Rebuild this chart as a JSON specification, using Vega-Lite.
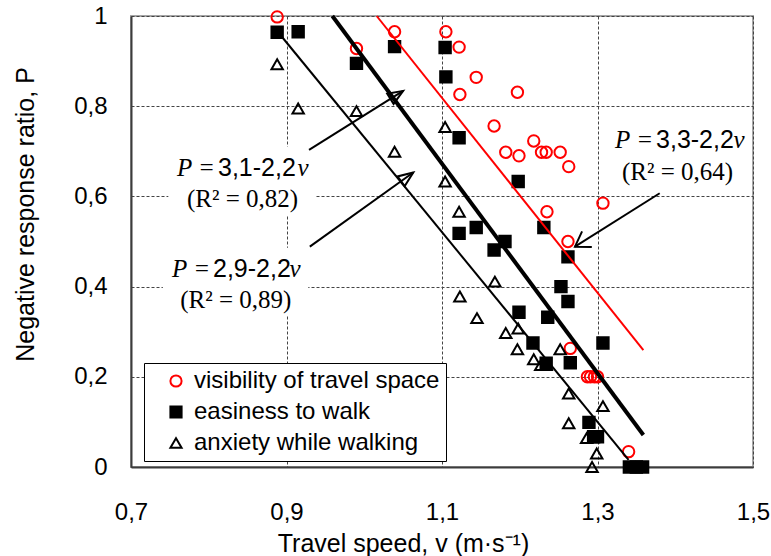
{
  "$schema": "https://vega.github.io/schema/vega-lite/v6.json",
  "width": 622,
  "height": 451,
  "autosize": {"type": "none"},
  "padding": {"left": 131, "top": 16, "right": 18, "bottom": 89},
  "background": "white",
  "config": {
    "view": {"stroke": "#a6a6a6", "strokeWidth": 2},
    "axis": {
      "domainColor": "#3c3c3c",
      "domainWidth": 2,
      "ticks": false,
      "tickSize": 0,
      "gridColor": "#444444",
      "gridDash": [3, 2],
      "gridWidth": 1,
      "labelFont": "Liberation Sans",
      "labelFontSize": 24,
      "labelColor": "black",
      "labelOverlap": false,
      "titleFont": "Liberation Sans",
      "titleFontSize": 25,
      "titleFontWeight": "normal",
      "titleColor": "black"
    }
  },
  "datasets": {
    "responses": [
      {"series": "visibility of travel space", "v": 0.888, "P": 0.998},
      {"series": "visibility of travel space", "v": 0.990, "P": 0.928},
      {"series": "visibility of travel space", "v": 1.039, "P": 0.965},
      {"series": "visibility of travel space", "v": 1.105, "P": 0.965},
      {"series": "visibility of travel space", "v": 1.122, "P": 0.931},
      {"series": "visibility of travel space", "v": 1.144, "P": 0.864},
      {"series": "visibility of travel space", "v": 1.123, "P": 0.826},
      {"series": "visibility of travel space", "v": 1.197, "P": 0.831},
      {"series": "visibility of travel space", "v": 1.167, "P": 0.756},
      {"series": "visibility of travel space", "v": 1.218, "P": 0.723},
      {"series": "visibility of travel space", "v": 1.182, "P": 0.698},
      {"series": "visibility of travel space", "v": 1.199, "P": 0.690},
      {"series": "visibility of travel space", "v": 1.228, "P": 0.698},
      {"series": "visibility of travel space", "v": 1.234, "P": 0.698},
      {"series": "visibility of travel space", "v": 1.252, "P": 0.698},
      {"series": "visibility of travel space", "v": 1.263, "P": 0.666},
      {"series": "visibility of travel space", "v": 1.235, "P": 0.566},
      {"series": "visibility of travel space", "v": 1.307, "P": 0.585},
      {"series": "visibility of travel space", "v": 1.262, "P": 0.500},
      {"series": "visibility of travel space", "v": 1.265, "P": 0.263},
      {"series": "visibility of travel space", "v": 1.287, "P": 0.200},
      {"series": "visibility of travel space", "v": 1.291, "P": 0.200},
      {"series": "visibility of travel space", "v": 1.296, "P": 0.200},
      {"series": "visibility of travel space", "v": 1.300, "P": 0.200},
      {"series": "visibility of travel space", "v": 1.340, "P": 0.034},
      {"series": "easiness to walk", "v": 0.888, "P": 0.964},
      {"series": "easiness to walk", "v": 0.915, "P": 0.965},
      {"series": "easiness to walk", "v": 0.990, "P": 0.895},
      {"series": "easiness to walk", "v": 1.039, "P": 0.932},
      {"series": "easiness to walk", "v": 1.104, "P": 0.930},
      {"series": "easiness to walk", "v": 1.105, "P": 0.865},
      {"series": "easiness to walk", "v": 1.122, "P": 0.730},
      {"series": "easiness to walk", "v": 1.198, "P": 0.633},
      {"series": "easiness to walk", "v": 1.231, "P": 0.531},
      {"series": "easiness to walk", "v": 1.262, "P": 0.466},
      {"series": "easiness to walk", "v": 1.122, "P": 0.518},
      {"series": "easiness to walk", "v": 1.144, "P": 0.531},
      {"series": "easiness to walk", "v": 1.181, "P": 0.500},
      {"series": "easiness to walk", "v": 1.167, "P": 0.481},
      {"series": "easiness to walk", "v": 1.253, "P": 0.400},
      {"series": "easiness to walk", "v": 1.262, "P": 0.367},
      {"series": "easiness to walk", "v": 1.199, "P": 0.343},
      {"series": "easiness to walk", "v": 1.236, "P": 0.332},
      {"series": "easiness to walk", "v": 1.217, "P": 0.275},
      {"series": "easiness to walk", "v": 1.307, "P": 0.275},
      {"series": "easiness to walk", "v": 1.265, "P": 0.231},
      {"series": "easiness to walk", "v": 1.234, "P": 0.230},
      {"series": "easiness to walk", "v": 1.289, "P": 0.099},
      {"series": "easiness to walk", "v": 1.295, "P": 0.067},
      {"series": "easiness to walk", "v": 1.300, "P": 0.067},
      {"series": "easiness to walk", "v": 1.341, "P": 0.0},
      {"series": "easiness to walk", "v": 1.350, "P": 0.0},
      {"series": "easiness to walk", "v": 1.358, "P": 0.0},
      {"series": "anxiety while walking", "v": 0.888, "P": 0.893},
      {"series": "anxiety while walking", "v": 0.915, "P": 0.795},
      {"series": "anxiety while walking", "v": 0.990, "P": 0.789},
      {"series": "anxiety while walking", "v": 1.039, "P": 0.699},
      {"series": "anxiety while walking", "v": 1.104, "P": 0.754},
      {"series": "anxiety while walking", "v": 1.104, "P": 0.633},
      {"series": "anxiety while walking", "v": 1.122, "P": 0.566},
      {"series": "anxiety while walking", "v": 1.123, "P": 0.378},
      {"series": "anxiety while walking", "v": 1.145, "P": 0.330},
      {"series": "anxiety while walking", "v": 1.168, "P": 0.411},
      {"series": "anxiety while walking", "v": 1.182, "P": 0.297},
      {"series": "anxiety while walking", "v": 1.198, "P": 0.307},
      {"series": "anxiety while walking", "v": 1.197, "P": 0.261},
      {"series": "anxiety while walking", "v": 1.218, "P": 0.239},
      {"series": "anxiety while walking", "v": 1.227, "P": 0.226},
      {"series": "anxiety while walking", "v": 1.234, "P": 0.226},
      {"series": "anxiety while walking", "v": 1.252, "P": 0.261},
      {"series": "anxiety while walking", "v": 1.263, "P": 0.163},
      {"series": "anxiety while walking", "v": 1.307, "P": 0.135},
      {"series": "anxiety while walking", "v": 1.263, "P": 0.097},
      {"series": "anxiety while walking", "v": 1.286, "P": 0.064},
      {"series": "anxiety while walking", "v": 1.299, "P": 0.030},
      {"series": "anxiety while walking", "v": 1.293, "P": 0.0}
    ],
    "fits": [
      {"series": "visibility of travel space", "v": 1.016, "P": 1.0},
      {"series": "visibility of travel space", "v": 1.359, "P": 0.259},
      {"series": "easiness to walk", "v": 0.959, "P": 1.0},
      {"series": "easiness to walk", "v": 1.359, "P": 0.071},
      {"series": "anxiety while walking", "v": 0.894, "P": 0.954},
      {"series": "anxiety while walking", "v": 1.340, "P": 0.016}
    ],
    "arrows": [
      {"id": "easiness", "v": 1.050, "P": 0.834, "v2": 0.929, "P2": 0.703},
      {"id": "anxiety", "v": 1.063, "P": 0.653, "v2": 0.930, "P2": 0.4885},
      {"id": "visibility", "v": 1.271, "P": 0.4885, "v2": 1.380, "P2": 0.607}
    ],
    "boxes": [
      {"v": 0.748, "v2": 0.937, "P": 0.557, "P2": 0.710},
      {"v": 0.741, "v2": 0.928, "P": 0.337, "P2": 0.486}
    ],
    "notes": [
      {"part": "lead", "v": 0.8106, "P": 0.646, "text": "P ="},
      {"part": "lead", "v": 0.8042, "P": 0.422, "text": "P ="},
      {"part": "lead", "v": 1.374, "P": 0.7066, "text": "P ="},
      {"part": "coef", "v": 0.8106, "P": 0.646, "text": "3,1-2,2"},
      {"part": "coef", "v": 0.8042, "P": 0.422, "text": "2,9-2,2"},
      {"part": "coef", "v": 1.374, "P": 0.7066, "text": "3,3-2,2"},
      {"part": "var", "v": 0.9141, "P": 0.646, "text": "v"},
      {"part": "var", "v": 0.9039, "P": 0.422, "text": "v"},
      {"part": "var", "v": 1.4749, "P": 0.7066, "text": "v"},
      {"part": "fit", "v": 0.8434, "P": 0.5772, "text": "(R² = 0,82)"},
      {"part": "fit", "v": 0.8347, "P": 0.3519, "text": "(R² = 0,89)"},
      {"part": "fit", "v": 1.403, "P": 0.6364, "text": "(R² = 0,64)"}
    ]
  },
  "encoding": {
    "x": {
      "field": "v",
      "type": "quantitative",
      "scale": {"domain": [0.7, 1.5], "nice": false, "zero": false},
      "axis": {
        "title": "Travel speed, v (m·s⁻¹)",
        "values": [0.7, 0.9, 1.1, 1.3, 1.5],
        "labelExpr": "replace(format(datum.value, '~g'), '.', ',')",
        "labelFlush": false,
        "labelPadding": 33,
        "titleX": 272,
        "titleY": 84,
        "titleAlign": "center",
        "titleBaseline": "alphabetic"
      }
    },
    "y": {
      "field": "P",
      "type": "quantitative",
      "scale": {"domain": [0, 1], "nice": false},
      "axis": {
        "title": "Negative response ratio, P",
        "values": [0, 0.2, 0.4, 0.6, 0.8, 1],
        "labelExpr": "replace(format(datum.value, '~g'), '.', ',')",
        "labelPadding": 24,
        "titleX": -98,
        "titleY": 198,
        "titleAlign": "center",
        "titleBaseline": "alphabetic"
      }
    }
  },
  "layer": [
    {
      "data": {"name": "boxes"},
      "mark": {"type": "rect", "fill": "white"},
      "encoding": {"x2": {"field": "v2"}, "y2": {"field": "P2"}}
    },
    {
      "data": {"name": "responses"},
      "mark": {"type": "point", "size": 130, "strokeWidth": 2, "opacity": 1},
      "encoding": {
        "shape": {
          "field": "series",
          "type": "nominal",
          "scale": {
            "domain": ["visibility of travel space", "easiness to walk", "anxiety while walking"],
            "range": ["circle", "square", "triangle-up"]
          },
          "legend": {
            "title": null, "orient": "none", "legendX": 13, "legendY": 347,
            "fillColor": "white", "strokeColor": "black", "padding": 6, "rowPadding": 7,
            "symbolOffset": 14, "labelOffset": 6, "symbolSize": 125, "symbolStrokeWidth": 2,
            "labelFont": "Liberation Sans", "labelFontSize": 24, "labelColor": "black", "labelLimit": 400
          }
        },
        "fill": {
          "field": "series",
          "type": "nominal",
          "scale": {
            "domain": ["visibility of travel space", "easiness to walk", "anxiety while walking"],
            "range": ["transparent", "black", "transparent"]
          },
          "legend": {
            "title": null, "orient": "none", "legendX": 13, "legendY": 347,
            "fillColor": "white", "strokeColor": "black", "padding": 6, "rowPadding": 7,
            "symbolOffset": 14, "labelOffset": 6, "symbolSize": 125, "symbolStrokeWidth": 2,
            "labelFont": "Liberation Sans", "labelFontSize": 24, "labelColor": "black", "labelLimit": 400
          }
        },
        "stroke": {
          "field": "series",
          "type": "nominal",
          "scale": {
            "domain": ["visibility of travel space", "easiness to walk", "anxiety while walking"],
            "range": ["#ff0000", "black", "black"]
          },
          "legend": {
            "title": null, "orient": "none", "legendX": 13, "legendY": 347,
            "fillColor": "white", "strokeColor": "black", "padding": 6, "rowPadding": 7,
            "symbolOffset": 14, "labelOffset": 6, "symbolSize": 125, "symbolStrokeWidth": 2,
            "labelFont": "Liberation Sans", "labelFontSize": 24, "labelColor": "black", "labelLimit": 400
          }
        }
      }
    },
    {
      "data": {"name": "fits"},
      "transform": [{"filter": "datum.series === 'visibility of travel space'"}],
      "mark": {"type": "line", "color": "#ff0000", "strokeWidth": 2},
      "encoding": {}
    },
    {
      "data": {"name": "fits"},
      "transform": [{"filter": "datum.series === 'anxiety while walking'"}],
      "mark": {"type": "line", "color": "black", "strokeWidth": 2},
      "encoding": {}
    },
    {
      "data": {"name": "fits"},
      "transform": [{"filter": "datum.series === 'easiness to walk'"}],
      "mark": {"type": "line", "color": "black", "strokeWidth": 4},
      "encoding": {}
    },
    {
      "data": {"name": "arrows"},
      "mark": {"type": "rule", "color": "black", "strokeWidth": 2},
      "encoding": {"x2": {"field": "v2"}, "y2": {"field": "P2"}}
    },
    {
      "data": {"name": "arrows"},
      "transform": [{"filter": "datum.id === 'easiness'"}],
      "mark": {"type": "point", "shape": "M0,0L-1,-0.4L-1,0.4Z", "size": 900, "angle": 328, "filled": false, "stroke": "black", "strokeWidth": 2, "opacity": 1},
      "encoding": {}
    },
    {
      "data": {"name": "arrows"},
      "transform": [{"filter": "datum.id === 'anxiety'"}],
      "mark": {"type": "point", "shape": "M0,0L-1,-0.4L-1,0.4Z", "size": 900, "angle": 324, "filled": false, "stroke": "black", "strokeWidth": 2, "opacity": 1},
      "encoding": {}
    },
    {
      "data": {"name": "arrows"},
      "transform": [{"filter": "datum.id === 'visibility'"}],
      "mark": {"type": "point", "shape": "M-1,-0.65L0,0L-1,0.65", "size": 800, "angle": 148, "filled": false, "stroke": "black", "strokeWidth": 2, "opacity": 1},
      "encoding": {}
    },
    {
      "data": {"name": "notes"},
      "transform": [{"filter": "datum.part === 'lead'"}],
      "mark": {"type": "text", "font": "Liberation Serif", "fontStyle": "italic", "fontSize": 25, "align": "right", "baseline": "alphabetic", "dx": -2, "color": "black"},
      "encoding": {"text": {"field": "text"}}
    },
    {
      "data": {"name": "notes"},
      "transform": [{"filter": "datum.part === 'coef'"}],
      "mark": {"type": "text", "font": "Liberation Sans", "fontSize": 25, "align": "left", "baseline": "alphabetic", "dx": 1, "color": "black"},
      "encoding": {"text": {"field": "text"}}
    },
    {
      "data": {"name": "notes"},
      "transform": [{"filter": "datum.part === 'var'"}],
      "mark": {"type": "text", "font": "Liberation Serif", "fontStyle": "italic", "fontSize": 25, "align": "left", "baseline": "alphabetic", "color": "black"},
      "encoding": {"text": {"field": "text"}}
    },
    {
      "data": {"name": "notes"},
      "transform": [{"filter": "datum.part === 'fit'"}],
      "mark": {"type": "text", "font": "Liberation Serif", "fontSize": 25, "align": "center", "baseline": "alphabetic", "color": "black"},
      "encoding": {"text": {"field": "text"}}
    }
  ]
}
